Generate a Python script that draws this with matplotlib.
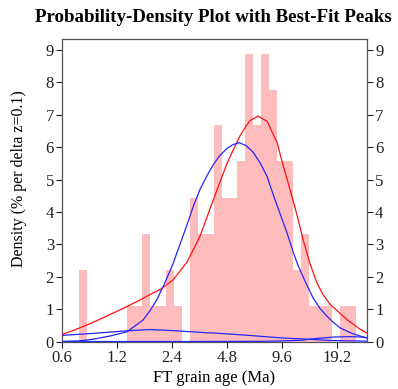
import numpy as np
import matplotlib
matplotlib.use("Agg")
import matplotlib.pyplot as plt
from matplotlib.ticker import FixedLocator, FixedFormatter, NullLocator

plt.rcParams['font.family'] = ['Liberation Serif', 'DejaVu Serif']

# Histogram: lower edge of each bin in z = ln(age), bin width delta z = 0.1
bin_lo_z = [-0.3, 0.3, 0.4, 0.5, 0.6, 0.7, 0.8, 0.9, 1.1, 1.2, 1.3, 1.4, 1.5,
            1.6, 1.7, 1.8, 1.9, 2.0, 2.1, 2.2, 2.3, 2.4, 2.5, 2.6, 2.7, 2.8,
            3.0, 3.1]
bin_density = [2.22, 1.11, 1.11, 3.33, 1.11, 1.11, 2.22, 1.11, 4.44, 3.33, 3.33,
               6.67, 4.44, 4.44, 5.56, 8.89, 6.67, 8.89, 7.78, 5.56, 5.56, 2.22,
               3.33, 1.11, 1.11, 1.11, 1.11, 1.11]
dz = 0.1

# Probability-density curve (red)
pd_age = [0.6, 0.704, 0.851, 1.029, 1.291, 1.600, 1.815, 2.086, 2.427, 2.897,
          3.414, 4.022, 4.8, 5.178, 5.657, 6.102, 6.417, 7.100, 7.955, 9.024,
          9.733, 10.63, 11.62, 12.53, 13.69, 14.96, 16.13, 17.62, 19.99, 21.84,
          23.56, 25.73, 28.0]
pd_dens = [0.22, 0.36, 0.55, 0.76, 1.02, 1.28, 1.45, 1.62, 1.90, 2.45,
           3.25, 4.35, 5.50, 5.90, 6.35, 6.65, 6.82, 6.96, 6.80, 6.15,
           5.45, 4.70, 3.90, 3.15, 2.40, 1.80, 1.45, 1.15, 0.87, 0.67,
           0.54, 0.38, 0.26]

# Best-fit peak 1 (small, broad)
p1_age = [0.6, 0.884, 1.358, 1.815, 2.543, 3.715, 4.125, 6.28, 9.58, 13.40, 18.0, 28.0]
p1_dens = [0.19, 0.25, 0.33, 0.37, 0.33, 0.27, 0.26, 0.19, 0.11, 0.07, 0.03, 0.01]

# Best-fit peak 2 (main)
p2_age = [0.6, 0.750, 0.884, 1.096, 1.358, 1.662, 1.815, 1.984, 2.194, 2.427,
          2.651, 2.897, 3.125, 3.414, 3.729, 4.022, 4.394, 4.8, 5.178, 5.586,
          6.102, 6.665, 7.281, 7.955, 8.579, 9.373, 10.24, 11.04, 11.76, 13.13,
          14.22, 15.53, 16.96, 18.30, 19.99, 21.84, 23.56, 25.73, 28.0]
p2_dens = [0.0, 0.02, 0.07, 0.17, 0.30, 0.66, 0.95, 1.30, 1.82, 2.40,
           3.00, 3.60, 4.15, 4.70, 5.12, 5.45, 5.75, 5.96, 6.08, 6.14,
           6.05, 5.85, 5.52, 5.10, 4.55, 3.95, 3.35, 2.78, 2.35, 1.75,
           1.35, 1.02, 0.78, 0.60, 0.42, 0.32, 0.24, 0.17, 0.11]

# Best-fit peak 3 (small, old)
p3_age = [0.6, 3.414, 7.281, 10.0, 12.33, 14.58, 18.77, 22.68, 25.73, 28.0]
p3_dens = [0.0, 0.0, 0.005, 0.02, 0.04, 0.09, 0.14, 0.15, 0.14, 0.12]

xticks = [0.6, 1.2, 2.4, 4.8, 9.6, 19.2]
xtick_labels = ['0.6', '1.2', '2.4', '4.8', '9.6', '19.2']
yticks = [0, 1, 2, 3, 4, 5, 6, 7, 8, 9]

fig = plt.figure(figsize=(3.98, 3.89), dpi=100)
ax = fig.add_axes([0.1565, 0.1221, 0.7649, 0.7776])

lo = np.exp(np.array(bin_lo_z))
hi = np.exp(np.array(bin_lo_z) + dz)
ax.bar(lo, bin_density, width=hi - lo, align='edge', color='#ffbcbc',
       edgecolor='none', linewidth=0, zorder=1)

ax.plot(pd_age, pd_dens, color='#ff1010', lw=0.9, zorder=3)
ax.plot(p1_age, p1_dens, color='#2525ff', lw=0.9, zorder=3)
ax.plot(p2_age, p2_dens, color='#2525ff', lw=0.9, zorder=3)
ax.plot(p3_age, p3_dens, color='#2525ff', lw=0.9, zorder=3)

ax.set_xscale('log')
ax.set_xlim(0.6, 28.0)
ax.set_ylim(0, 9.34)
ax.xaxis.set_major_locator(FixedLocator(xticks))
ax.xaxis.set_major_formatter(FixedFormatter(xtick_labels))
ax.xaxis.set_minor_locator(NullLocator())
ax.set_yticks(yticks)

ax.tick_params(axis='both', direction='out', length=4, width=0.8,
               labelsize=12, colors='#222222', pad=2)
ax.tick_params(axis='y', right=True, labelright=True)
for s in ax.spines.values():
    s.set_color('#555555')
    s.set_linewidth(0.9)

ax.set_xlabel('FT grain age (Ma)', fontsize=12, labelpad=3)
fig.text(0.0465, 0.542, 'Density (% per delta z=0.1)', rotation=90,
         ha='center', va='center', fontsize=11.5)
fig.text(0.536, 0.954, 'Probability-Density Plot with Best-Fit Peaks',
         ha='center', va='center', fontsize=13.6, fontweight='bold')

fig.savefig('out.png', dpi=100)
